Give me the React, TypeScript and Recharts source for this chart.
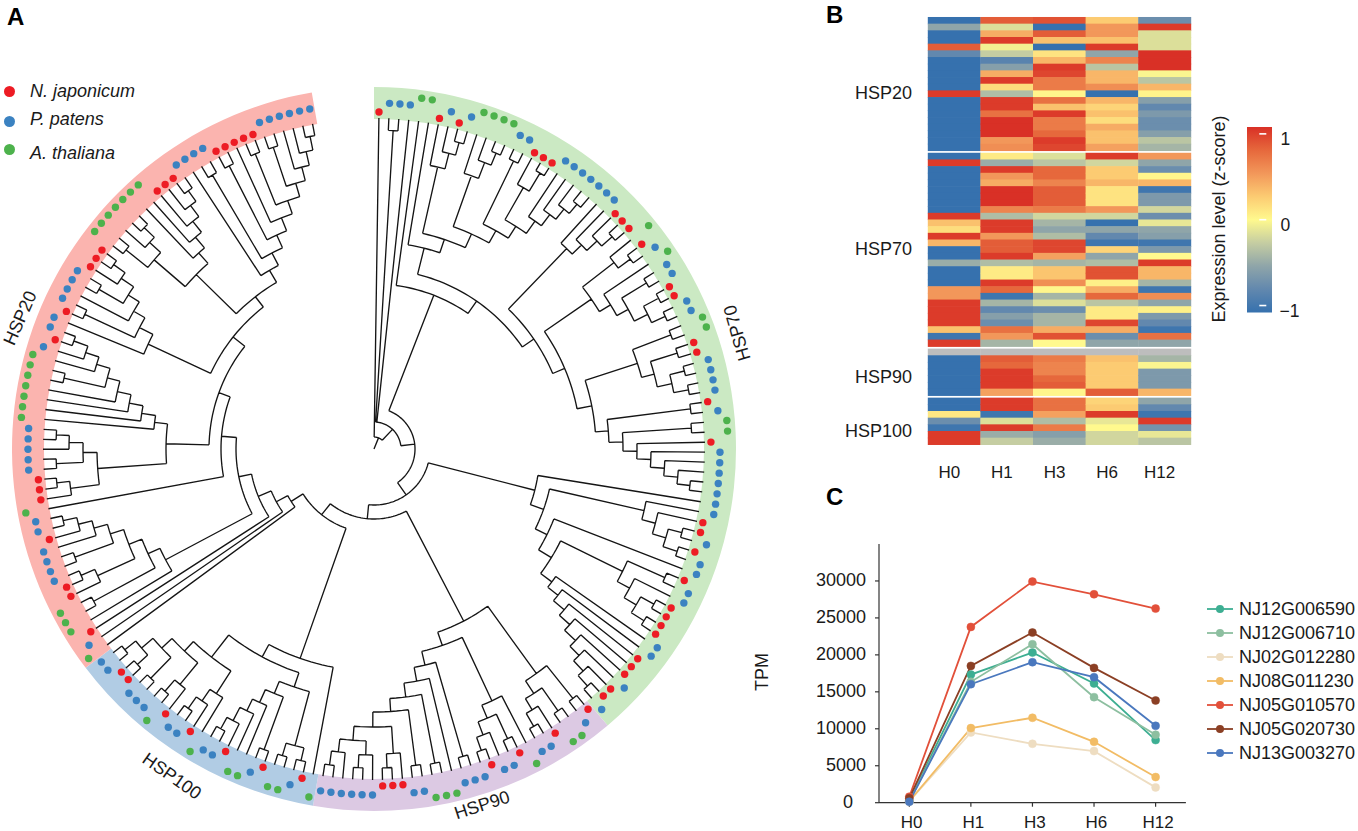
import React from "react";
import {
  Bar,
  BarChart,
  ComposedChart,
  Cell,
  Legend,
  Line,
  LineChart,
  Pie,
  PieChart,
  Scatter,
  ScatterChart,
  XAxis,
  YAxis,
} from "recharts";

const FONT = '"Liberation Sans", Arial, sans-serif';

// Panel A: leaf species in clockwise order, n = N. japonicum, p = P. patens, a = A. thaliana
const hsp70Leaves = "npppaanpnpaaaappnnnpppppppnnnanpappnnppaannppppnpaanpppppppnnpnppnppnnnnppnnnpnnp";
const hsp90Leaves = "npaanppanppnpppaaappnnnpppppp";
const hsp100Leaves = "anpaanpaanppanppnapppnnpp";
const hsp20Leaves = "apnaaannppppnppannnpppppaaaaaaapnppnppppnnnaaaaaaannnppppnnnnnpppppp";

// ring sectors in degrees, clockwise from north (last one is the open gap)
const ringNames = ["HSP70", "HSP90", "HSP100", "HSP20", "gap"];
const ringSpans = [139.8, 49.9, 43.1, 117.3, 9.9];
const ringColours = ["#CBE9C3", "#DCC9E3", "#B1CCE4", "#FBB4AF", "none"];

// tree topology, "." is a leaf, the number after ")" is the node radius
const cladeN2a = "(.,((.,(.,(.,.)318)305)289,((.,(.,(.,.)320)307)290,((.,.)320,((.,(.,.)322)301,(.,(.,(.,(.,.)318)306)293)279)264)250)236)221)207";
const cladeN2b = "((.,(.,(.,(.,.)319)305)291)278,(((.,(.,.)319)304,(.,((.,.)319,((.,.)322,(.,.)320)305)290)277)264,(((.,.)318,((.,.)318,((.,.)320,(.,.)320)305)290)277,((.,.)319,((.,.)318,(.,(.,(.,(.,(.,.)318)305)291)277)263)249)235)222)207)194";
const cladeB2a = "(.,(.,((.,.)319,(.,.)320)305)291)277";
const cladeB2b = "(.,(((.,.)318,(.,((.,.)320,(.,.)320)305)291)277,(.,(.,(.,(.,(.,(.,(.,(.,.)319)305)291)278)263)249)235)222)208)193";
const cladeF2 = "((.,.)319,((.,.)320,(.,(.,.)320)305)292)277";
const cladeF4 = "(.,((.,.)319,(.,(.,.)320)306)292)278";
const cladeF5 = "((.,.)320,(.,((.,.)320,((.,.)319,((.,(.,.)319)305,((.,(.,.)319)306,(.,(.,.)319)305)292)278)263)250)236)222";
const cladeO1 = "(((.,.)320,(.,.)320)307,((.,.)320,(.,(.,(.,(.,.)319)306)291)278)264)251";
const cladeO2 = "((.,(.,(.,.)319)305)291,((.,(.,.)320)305,((.,.)320,((.,.)320,(.,.)320)306)291)277)264";
const cladeY1 = "(.,((.,.)319,((.,(.,.)319)304,((.,.)318,(.,(.,(.,.)319)305)291)277)263)249)236";
const cladeAF1 = "((.,(.,.)319)306,((.,.)318,(.,(.,.)318)305)291)277";
const cladeAF2 = "(.,(.,(.,(.,((.,.)318,(.,(.,(.,.)319)304)290)276)263)249)235)221";
const cladeAN1 = "(.,((.,.)319,(.,((.,.)318,(.,(.,.)319)305)290)277)264)249";
const cladeAP1 = "(((.,.)318,(.,(.,.)319)305)290,(.,(.,(.,(.,(.,.)318)305)291)277)263)249";
const cladeAP2 = "(.,((.,.)318,((.,.)318,(.,((.,.)318,((.,.)318,(.,(.,(.,.)319)305)291)277)263)249)235)221)207";

const upperTree = `(.,(${cladeN2a},${cladeN2b})180)165`;
const rightTree = `(.,(${cladeB2a},${cladeB2b})180)166`;
const bottomTree = `(${cladeF2},(${cladeF4},${cladeF5})208)194`;
const leftLower = `(.,(${cladeO1},${cladeO2})236)222`;
const leftUpper = `(.,((${cladeAF1},${cladeAF2})208,(${cladeAN1},(${cladeAP1},${cladeAP2})193)180)165)153`;
const leftTree = `(${leftLower},(.,(.,(.,(${cladeY1},${leftUpper})138)125)111)98)84`;
const treeNewick = `(.,((.,.)319,.,(${upperTree},(${rightTree},(${bottomTree},${leftTree})70)56)41)27)12`;

const LEAF_RADIUS = 331;
const FIRST_LEAF = 0.85;
const LEAF_STEP = 1.725;
const speciesRadius: Record<string, number> = { n: 337, p: 346, a: 354 };
const speciesColour: Record<string, string> = { n: "#ED1C24", p: "#3B82C1", a: "#4DB24C" };

type TreeRow = { x: number; y: number | null };

function polar(radius: number, deg: number) {
  const t = (deg * Math.PI) / 180;
  return { x: radius * Math.sin(t), y: radius * Math.cos(t) };
}

// walks the newick string and returns line rows, breaks between pieces are null rows
function buildTreeRows(src: string) {
  const rows: TreeRow[] = [];
  let pos = 0;
  let leafIndex = 0;
  const pushLine = (pts: { x: number; y: number }[]) => {
    rows.push(...pts);
    rows.push({ x: 0, y: null });
  };
  const readNode = (): { r: number; deg: number } => {
    if (src[pos] === ".") {
      pos += 1;
      const deg = FIRST_LEAF + LEAF_STEP * leafIndex;
      leafIndex += 1;
      return { r: LEAF_RADIUS, deg };
    }
    pos += 1; // (
    const kids = [readNode()];
    while (src[pos] === ",") {
      pos += 1;
      kids.push(readNode());
    }
    pos += 1; // )
    let num = "";
    while (pos < src.length && /[0-9]/.test(src[pos])) {
      num += src[pos];
      pos += 1;
    }
    const r = Number(num);
    const from = kids[0].deg;
    const to = kids[kids.length - 1].deg;
    const arc = [];
    const steps = Math.max(1, Math.ceil((to - from) / 1.5));
    for (let i = 0; i <= steps; i++) arc.push(polar(r, from + ((to - from) * i) / steps));
    pushLine(arc);
    kids.forEach((k) => pushLine([polar(r, k.deg), polar(k.r, k.deg)]));
    return { r, deg: (from + to) / 2 };
  };
  const root = readNode();
  pushLine([polar(0, root.deg), polar(root.r, root.deg)]);
  return rows;
}

const treeRows = buildTreeRows(treeNewick);
const allLeaves = (hsp70Leaves + hsp90Leaves + hsp100Leaves + hsp20Leaves).split("");
const speciesRows = (code: string) =>
  allLeaves.flatMap((s, i) =>
    s === code ? [polar(speciesRadius[code], FIRST_LEAF + LEAF_STEP * i)] : []
  );

const speciesLegend = [
  { label: "N. japonicum", code: "n", dotY: 91, textY: 91 },
  { label: "P. patens", code: "p", dotY: 121, textY: 119 },
  { label: "A. thaliana", code: "a", dotY: 149, textY: 153 },
];

const ringLabels = [
  { text: "HSP20", x: 20, y: 318, angle: -66 },
  { text: "HSP70", x: 737, y: 333, angle: -106 },
  { text: "HSP90", x: 482, y: 805, angle: -18 },
  { text: "HSP100", x: 172, y: 776, angle: 35 },
];

// Panel B: z-scores per column, rows run HSP20 (20), HSP70 (29), HSP90 (7), HSP100 (7); null is the grey row
const heatH0 = [
  -1, -0.5, -1, -1, 0.8, -0.75, -1, -1, -1, -1, -1, 0.95, -1, -1, -1, -1, -1, -1, -1, -1,
  -1, 0.95, -1, -1, -1, -1, -1, -1, -1, 0.95, 0.3, 0.15, 0.95, 0.35, -1, -1, -0.45, -1, -1, -1, 0.5, 0.5, 0.95, 0.95, 0.95, 0.95, 0.3, -0.95, 0.95,
  null, -1, -1, -1, -1, -1, -1,
  -1, -1, 0.1, -0.7, -0.95, 0.95, 0.95,
];
const heatH1 = [
  0.8, -0.15, 0.4, 0.95, -0.05, -0.25, -0.8, -0.55, 0.4, 0.95, 0.15, -0.35, 0.95, 0.95, 0.7, 1, 1, 1, 0.5, 0.55,
  0.08, -0.45, 0.95, 0.5, 0.4, 1, 1, 1, 0.6, -0.35, 0.95, 0.95, 0.5, 0.8, 0.8, 0.95, -0.35, 0.08, 0.08, 0.95, 0.75, -0.95, -0.4, -0.75, -0.55, -0.7, 0.7, 0.5, -0.4,
  null, 0.8, 0.75, 0.95, 0.95, 0.95, 0.45,
  0.95, 0.95, -0.95, -0.15, 0.95, -0.45, -0.25,
];
const heatH3 = [
  0.85, -1, 0.8, 0.3, -1, 0.12, 0.35, 0.95, 0.9, 0.65, 0.65, 0.02, 0.7, 0.3, 0.95, 0.65, 0.65, 0.75, 0.95, 0.9,
  -0.15, -0.3, 0.75, 0.75, 0.6, 0.8, 0.8, 0.8, 0.65, -0.2, -0.4, -0.5, -0.35, 0.9, 0.9, 0.45, -0.4, 0.28, 0.28, 0.55, 0.02, -0.4, -0.15, -0.7, -0.4, -0.4, 0.4, 0.85, 0,
  null, 0.65, 0.6, 0.6, 0.75, 0.8, 0.02,
  0.7, 0.7, 0.45, -0.35, 0.65, -0.55, -0.45,
];
const heatH6 = [
  0.25, 0.5, 0.5, 0.3, 0.95, -0.5, 0.6, -0.3, 0.35, 0.35, 0.55, -1, 0.35, 0.2, 0.3, 0.15, 0.4, 0.3, 0.3, 0.45,
  0.95, -0.2, 0.25, 0.25, 0.35, 0.12, 0.12, 0.12, 0.5, -0.2, -1, -0.5, -0.75, -0.95, 0.2, -0.5, -0.35, 0.85, 0.85, 0.05, 0.4, 0.75, -0.3, 0.08, 0.08, 0.9, 0.4, -0.7, -0.5,
  null, 0.3, 0.25, 0.25, 0.25, 0.25, 0.8,
  0.2, 0.25, 0.95, -0.1, 0, -0.2, -0.2,
];
const heatH12 = [
  -0.7, 0.95, -0.15, -0.15, -0.15, 1, 1, 1, -0.02, -0.3, 0.35, 0.03, -0.55, -0.75, -0.6, -0.7, -0.7, -0.55, -0.3, -0.4,
  0.5, -0.5, -0.7, 0.02, 0.35, -0.95, -0.6, -0.6, -0.2, -0.7, -0.1, -0.5, -0.55, -0.95, -0.6, 0, 0.95, 0.35, 0.35, -0.4, -0.95, 0.55, -0.5, 0.05, -0.6, -0.75, -0.95, 0.7, -0.5,
  null, -0.4, -0.02, -0.6, -0.6, -0.6, 0.35,
  -0.5, -0.75, -0.95, 0.95, -0.65, -0.1, -0.3,
];
const heatColumns = [heatH0, heatH1, heatH3, heatH6, heatH12];
const heatLabels = ["H0", "H1", "H3", "H6", "H12"];
const groupSizes = [20, 29, 7, 7];
const groupLabels: Record<number, string> = { 11.35: "HSP20", 34.6: "HSP70", 53.8: "HSP90", 62: "HSP100" };

const scaleStops: [number, number[]][] = [
  [-1, [54, 113, 174]],
  [-0.75, [98, 136, 174]],
  [-0.5, [143, 165, 169]],
  [-0.25, [197, 205, 162]],
  [0, [255, 249, 142]],
  [0.25, [252, 203, 114]],
  [0.5, [242, 151, 90]],
  [0.75, [230, 104, 60]],
  [1, [217, 48, 38]],
];

function heatColour(v: number | null) {
  if (v === null) return "#BDBDBD";
  for (let i = 1; i < scaleStops.length; i++) {
    const [v1, c1] = scaleStops[i];
    const [v0, c0] = scaleStops[i - 1];
    if (v <= v1) {
      const t = (v - v0) / (v1 - v0);
      const c = c0.map((a, k) => Math.round(a + (c1[k] - a) * t));
      return `rgb(${c.join(",")})`;
    }
  }
  return "rgb(217,48,38)";
}

const GROUP_GAP = 0.35;
const ROW_TOTAL = 64.1;
const heatCells = heatColumns.flatMap((col, c) => {
  const cells: { x: number; y: number; value: number | null }[] = [];
  let row = 0;
  groupSizes.forEach((size, g) => {
    for (let i = 0; i < size; i++) {
      cells.push({ x: c + 0.5, y: row + 0.5 + g * GROUP_GAP, value: col[row] });
      row += 1;
    }
  });
  return cells;
});

const colourBarTicks = [-1, 0, 1];
const colourBarRow = [{ name: "z", range: [-1.08, 1.08] }];

// Panel C: TPM time course
const timePoints = ["H0", "H1", "H3", "H6", "H12"];
const nj12g006590 = [300, 17340, 20315, 16130, 8470];
const nj12g006710 = [200, 16350, 21440, 14280, 9190];
const nj02g012280 = [200, 9500, 7970, 6980, 2070];
const nj08g011230 = [200, 10090, 11490, 8240, 3470];
const nj05g010570 = [810, 23780, 29910, 28200, 26260];
const nj05g020730 = [600, 18510, 23020, 18240, 13830];
const nj13g003270 = [130, 16040, 19010, 16980, 10400];
const tpmTicks = [0, 5000, 10000, 15000, 20000, 25000, 30000];

const geneSeries = [
  { name: "NJ12G006590", values: nj12g006590, colour: "#3DAE92" },
  { name: "NJ12G006710", values: nj12g006710, colour: "#8DBFA0" },
  { name: "NJ02G012280", values: nj02g012280, colour: "#EEDDC1" },
  { name: "NJ08G011230", values: nj08g011230, colour: "#F2BC65" },
  { name: "NJ05G010570", values: nj05g010570, colour: "#E2503A" },
  { name: "NJ05G020730", values: nj05g020730, colour: "#8B3F24" },
  { name: "NJ13G003270", values: nj13g003270, colour: "#4A78BE" },
];

const tpmRows = timePoints.map((t, i) => {
  const row: Record<string, number | string> = { time: t };
  geneSeries.forEach((g) => {
    row[g.name] = g.values[i];
  });
  return row;
});

const abs = (left: number, top: number): React.CSSProperties => ({ position: "absolute", left, top });

function HeatCell(props: any) {
  const { cx, cy, payload } = props;
  const w = 53;
  const h = 7.3;
  return <rect x={cx - w / 2} y={cy - h / 2} width={w} height={h} fill={heatColour(payload.value)} />;
}

function ColourBarTick(props: any) {
  const { x, y, payload } = props;
  const v = payload.value;
  return (
    <g>
      <line x1={x - 12.7} x2={x - 5.7} y1={y} y2={y} stroke="#fff" strokeWidth={1.6} />
      <text x={v < 0 ? x + 7.5 : x + 8.5} y={y + 11.5} fontSize={17.5} fill="#1a1a1a" fontFamily={FONT}>
        {v < 0 ? "\u22121" : v}
      </text>
    </g>
  );
}

// the zero label sits further left than the other counts in the figure
function TpmTick(props: any) {
  const { x, y, payload } = props;
  return (
    <text
      x={payload.value === 0 ? x - 13 : x}
      y={y - 1}
      dy="0.35em"
      textAnchor="end"
      fontSize={18}
      fill="#1a1a1a"
      fontFamily={FONT}
    >
      {payload.value}
    </text>
  );
}

function GeneLegend(props: any) {
  return (
    <div>
      {props.payload.map((item: any) => (
        <div key={item.value} style={{ height: 24.05, display: "flex", alignItems: "center" }}>
          <svg width={32} height={14} style={{ flex: "none" }}>
            <line x1={0} x2={26} y1={7} y2={7} stroke={item.color} strokeWidth={1.8} />
            <circle cx={13} cy={7} r={4} fill={item.color} />
          </svg>
          <span style={{ fontSize: 18, color: "#1a1a1a", whiteSpace: "nowrap" }}>{item.value}</span>
        </div>
      ))}
    </div>
  );
}

export default function App() {
  return (
    <div style={{ ...abs(0, 0), width: 1358, height: 831, overflow: "hidden", background: "#fff", fontFamily: FONT }}>
      {/* Panel A ring */}
      <div style={abs(4, 69)}>
        <PieChart width={740} height={760} margin={{ top: 0, right: 0, bottom: 0, left: 0 }}>
          <Pie
            data={ringNames.map((name, i) => ({ name, span: ringSpans[i] }))}
            dataKey="span"
            cx={370}
            cy={380}
            innerRadius={330}
            outerRadius={362}
            startAngle={90}
            endAngle={-270}
            stroke="none"
            isAnimationActive={false}
          >
            {ringColours.map((c, i) => (
              <Cell key={i} fill={c} />
            ))}
          </Pie>
        </PieChart>
      </div>

      {/* Panel A tree and leaf dots */}
      <div style={abs(4, 69)}>
        <ComposedChart width={740} height={760} margin={{ top: 0, right: 0, bottom: 0, left: 0 }}>
          <XAxis dataKey="x" type="number" domain={[-370, 370]} hide allowDataOverflow />
          <YAxis type="number" domain={[-380, 380]} hide allowDataOverflow />
          <Line
            data={treeRows}
            dataKey="y"
            stroke="#151515"
            strokeWidth={1.35}
            dot={false}
            connectNulls={false}
            isAnimationActive={false}
          />
          {["n", "p", "a"].map((code) => (
            <Line
              key={code}
              data={speciesRows(code)}
              dataKey="y"
              stroke="none"
              dot={{ r: 3.7, fill: speciesColour[code], stroke: "none" }}
              isAnimationActive={false}
            />
          ))}
        </ComposedChart>
      </div>

      {speciesLegend.map((s) => (
        <React.Fragment key={s.code}>
          <div
            style={{
              ...abs(4, s.dotY - 5.5),
              width: 11,
              height: 11,
              borderRadius: "50%",
              background: speciesColour[s.code],
            }}
          />
          <div
            style={{
              ...abs(30, s.textY - 11),
              fontSize: 18,
              fontStyle: "italic",
              lineHeight: "22px",
              color: "#1a1a1a",
              whiteSpace: "nowrap",
            }}
          >
            {s.label}
          </div>
        </React.Fragment>
      ))}

      {ringLabels.map((l) => (
        <div
          key={l.text}
          style={{
            ...abs(l.x, l.y),
            fontSize: 18,
            color: "#1a1a1a",
            lineHeight: "20px",
            whiteSpace: "nowrap",
            transform: `translate(-50%, -50%) rotate(${l.angle}deg)`,
          }}
        >
          {l.text}
        </div>
      ))}

      {/* Panel B */}
      <div style={abs(820, 10)}>
        <ScatterChart width={376} height={480} margin={{ top: 7.3, right: 5, bottom: 0, left: 0 }}>
          <XAxis
            dataKey="x"
            type="number"
            domain={[0, 5]}
            ticks={[0.5, 1.5, 2.5, 3.5, 4.5]}
            tickFormatter={(v: number) => heatLabels[Math.floor(v)]}
            axisLine={false}
            tickLine={false}
            interval={0}
            height={45}
            tickMargin={15}
            tick={{ fontSize: 17, fill: "#1a1a1a", fontFamily: FONT, dx: -5 }}
          />
          <YAxis
            dataKey="y"
            type="number"
            domain={[0, ROW_TOTAL]}
            reversed
            ticks={[11.35, 34.6, 53.8, 62]}
            tickFormatter={(v: number) => groupLabels[v]}
            axisLine={false}
            tickLine={false}
            interval={0}
            width={108}
            tickMargin={10}
            tick={{ fontSize: 18, fill: "#1a1a1a", fontFamily: FONT }}
          />
          <Scatter data={heatCells} shape={HeatCell} isAnimationActive={false} />
        </ScatterChart>
      </div>

      {/* colour bar */}
      <div style={abs(1246.7, 127.3)}>
        <BarChart width={80} height={207} data={colourBarRow} margin={{ top: 0, right: 0, bottom: 21.6, left: 0 }} barCategoryGap={0}>
          <defs>
            <linearGradient id="zScale" x1="0" y1="0" x2="0" y2="1">
              {scaleStops
                .slice()
                .reverse()
                .map(([v]) => (
                  <stop key={v} offset={`${((1 - v) / 2) * 100}%`} stopColor={heatColour(v)} />
                ))}
            </linearGradient>
          </defs>
          <XAxis dataKey="name" hide />
          <YAxis
            orientation="right"
            type="number"
            domain={[-1.08, 1.08]}
            ticks={colourBarTicks}
            width={55}
            axisLine={false}
            tickLine={false}
            tickSize={0}
            tickMargin={0}
            tick={ColourBarTick}
            interval={0}
          />
          <Bar dataKey="range" fill="url(#zScale)" isAnimationActive={false} />
        </BarChart>
      </div>
      <div
        style={{
          ...abs(1219, 219),
          fontSize: 18,
          color: "#1a1a1a",
          whiteSpace: "nowrap",
          transform: "translate(-50%, -50%) rotate(-90deg)",
        }}
      >
        Expression level (z-score)
      </div>

      {/* Panel C */}
      <div style={abs(740, 534)}>
        <LineChart width={618} height={297} data={tpmRows} margin={{ top: 10, right: 172.1, bottom: 0, left: 0 }}>
          <XAxis
            dataKey="time"
            padding={{ left: 30.3, right: 30.3 }}
            stroke="#333"
            strokeWidth={1.2}
            tickSize={4}
            tickMargin={9}
            height={28.3}
            interval={0}
            tick={{ fontSize: 17, fill: "#1a1a1a", fontFamily: FONT, dx: 2.4 }}
          />
          <YAxis
            type="number"
            domain={[0, 35000]}
            ticks={tpmTicks}
            stroke="#333"
            strokeWidth={1.2}
            tickSize={4}
            tickMargin={9}
            width={139}
            interval={0}
            tick={TpmTick}
          />
          {geneSeries.map((g) => (
            <Line
              key={g.name}
              dataKey={g.name}
              name={g.name}
              stroke={g.colour}
              strokeWidth={1.8}
              dot={{ r: 4, fill: g.colour, stroke: g.colour, strokeWidth: 0.5 }}
              isAnimationActive={false}
            />
          ))}
          <Legend
            layout="vertical"
            align="center"
            verticalAlign="middle"
            itemSorter={null}
            content={GeneLegend}
            wrapperStyle={{ left: 467, top: 63, width: 151 }}
          />
        </LineChart>
      </div>
      <div
        style={{
          ...abs(762, 672),
          fontSize: 18,
          color: "#1a1a1a",
          whiteSpace: "nowrap",
          transform: "translate(-50%, -50%) rotate(-90deg)",
        }}
      >
        TPM
      </div>

      <div style={{ ...abs(7, 3), fontSize: 24, fontWeight: 700 }}>A</div>
      <div style={{ ...abs(826, 1), fontSize: 24, fontWeight: 700 }}>B</div>
      <div style={{ ...abs(826, 483), fontSize: 24, fontWeight: 700 }}>C</div>
    </div>
  );
}
